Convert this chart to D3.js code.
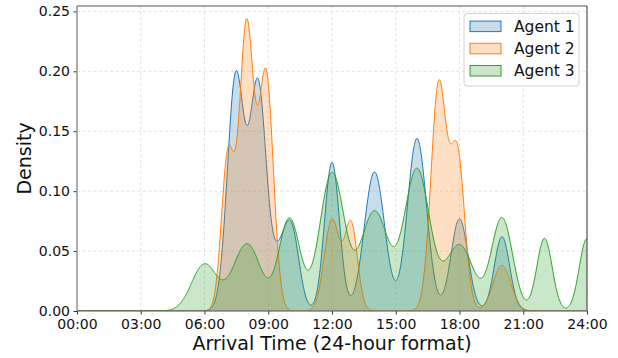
<!DOCTYPE html>
<html>
<head>
<meta charset="utf-8">
<script src="https://cdn.jsdelivr.net/npm/d3@7"></script>
<style>
  body { margin: 0; background: #fff; }
  svg { display: block; font-family: "DejaVu Sans", sans-serif; }
</style>
</head>
<body>
<script>
// kernel peaks: hour of each arrival cluster, peak density, spread (hours)
const agentNames = ['Agent 1', 'Agent 2', 'Agent 3'];
const agentColors = ['#1f77b4', '#ff7f0e', '#2ca02c'];

const agent1Hours  = [7.47, 8.52, 9.5, 10.1, 12.0, 14.0, 16.0, 18.0, 20.0];
const agent1Peaks  = [0.195, 0.188, 0.035, 0.065, 0.124, 0.116, 0.144, 0.077, 0.062];
const agent1Spread = [0.39, 0.39, 0.36, 0.36, 0.35, 0.48, 0.45, 0.40, 0.36];

const agent2Hours  = [7.1, 7.98, 8.9, 12.0, 12.9, 17.02, 17.9, 20.0];
const agent2Peaks  = [0.128, 0.237, 0.196, 0.076, 0.072, 0.188, 0.13, 0.038];
const agent2Spread = [0.30, 0.34, 0.34, 0.36, 0.30, 0.36, 0.34, 0.42];

const agent3Hours  = [6.0, 8.0, 10.0, 12.0, 14.0, 16.0, 18.0, 20.0, 22.0, 24.0];
const agent3Peaks  = [0.039, 0.056, 0.077, 0.115, 0.083, 0.118, 0.055, 0.0775, 0.0606, 0.0606];
const agent3Spread = [0.60, 0.65, 0.50, 0.58, 0.65, 0.60, 0.65, 0.50, 0.36, 0.36];

const hourTickValues = [0, 3, 6, 9, 12, 15, 18, 21, 24];
const hourTickLabels = ['00:00', '03:00', '06:00', '09:00', '12:00', '15:00', '18:00', '21:00', '24:00'];
const densityTicks = [0, 0.05, 0.10, 0.15, 0.20, 0.25];

const w = 618, h = 358;
const margin = {top: 6, right: 31, bottom: 47, left: 77};
const iw = w - margin.left - margin.right;
const ih = h - margin.top - margin.bottom;

const x = d3.scaleLinear().domain([0, 24]).range([0, iw]);
const y = d3.scaleLinear().domain([0, 0.2545]).range([ih, 0]);

function densityCurve(hours, peaks, spread) {
  return d3.range(0, 24.0001, 0.02).map(t => {
    let v = 0;
    hours.forEach((c, i) => {
      const z = (t - c) / spread[i];
      v += peaks[i] * Math.exp(-0.5 * z * z);
    });
    return [t, v];
  });
}

const series = [
  densityCurve(agent1Hours, agent1Peaks, agent1Spread),
  densityCurve(agent2Hours, agent2Peaks, agent2Spread),
  densityCurve(agent3Hours, agent3Peaks, agent3Spread)
];

const svg = d3.select('body').append('svg')
  .attr('width', w)
  .attr('height', h);

svg.append('defs').append('clipPath').attr('id', 'plot-clip')
  .append('rect').attr('width', iw).attr('height', ih);

const g = svg.append('g').attr('transform', `translate(${margin.left},${margin.top})`);

// grid
g.append('g').selectAll('line')
  .data(hourTickValues)
  .join('line')
  .attr('x1', d => x(d)).attr('x2', d => x(d))
  .attr('y1', 0).attr('y2', ih)
  .attr('stroke', '#dcdcdc').attr('stroke-width', 0.8).attr('stroke-dasharray', '3,2.5');

g.append('g').selectAll('line')
  .data(densityTicks)
  .join('line')
  .attr('x1', 0).attr('x2', iw)
  .attr('y1', d => y(d)).attr('y2', d => y(d))
  .attr('stroke', '#dcdcdc').attr('stroke-width', 0.8).attr('stroke-dasharray', '3,2.5');

// density areas
const area = d3.area().x(d => x(d[0])).y0(y(0)).y1(d => y(d[1]));
const line = d3.line().x(d => x(d[0])).y(d => y(d[1]));

const plot = g.append('g').attr('clip-path', 'url(#plot-clip)');
series.forEach((s, i) => {
  plot.append('path').datum(s)
    .attr('d', area)
    .attr('fill', agentColors[i]).attr('fill-opacity', 0.25);
  plot.append('path').datum(s)
    .attr('d', line)
    .attr('fill', 'none')
    .attr('stroke', agentColors[i]).attr('stroke-width', 1);
});

// axes
const xAxis = d3.axisBottom(x)
  .tickValues(hourTickValues)
  .tickFormat((d, i) => hourTickLabels[i])
  .tickSize(3.5).tickPadding(4.5);

const yAxis = d3.axisLeft(y)
  .tickValues(densityTicks)
  .tickFormat(d3.format('.2f'))
  .tickSize(3.5).tickPadding(3.5);

const gx = g.append('g').attr('transform', `translate(0,${ih})`).call(xAxis);
const gy = g.append('g').call(yAxis);

[gx, gy].forEach(a => {
  a.select('.domain').remove();
  a.selectAll('.tick line').attr('stroke', '#333').attr('stroke-width', 1);
  a.selectAll('.tick text').attr('fill', '#111').attr('font-size', '14px')
    .attr('font-family', '"DejaVu Sans", sans-serif');
});

// spines
g.append('line').attr('x1', 0).attr('x2', iw).attr('y1', 0).attr('y2', 0)
  .attr('stroke', '#555').attr('stroke-width', 1.2);
g.append('line').attr('x1', iw).attr('x2', iw).attr('y1', 0).attr('y2', ih)
  .attr('stroke', '#555').attr('stroke-width', 1.2);
g.append('line').attr('x1', 0).attr('x2', iw).attr('y1', ih).attr('y2', ih)
  .attr('stroke', '#555').attr('stroke-width', 1.2);
g.append('line').attr('x1', 0).attr('x2', 0).attr('y1', 0).attr('y2', ih)
  .attr('stroke', '#999').attr('stroke-width', 1.6);

// axis titles
svg.append('text')
  .attr('x', margin.left + iw / 2).attr('y', 350)
  .attr('text-anchor', 'middle')
  .attr('font-size', '19px').attr('fill', '#111')
  .text('Arrival Time (24-hour format)');

svg.append('text')
  .attr('transform', `translate(31,${margin.top + ih / 2}) rotate(-90)`)
  .attr('text-anchor', 'middle')
  .attr('font-size', '19px').attr('fill', '#111')
  .text('Density');

// legend
const legend = svg.append('g').attr('transform', 'translate(464,13.5)');
legend.append('rect')
  .attr('width', 115).attr('height', 72.5).attr('rx', 3)
  .attr('fill', '#fff').attr('fill-opacity', 0.8)
  .attr('stroke', '#d0d0d0').attr('stroke-width', 1);

const rows = legend.selectAll('g.row')
  .data(agentNames)
  .join('g')
  .attr('class', 'row')
  .attr('transform', (d, i) => `translate(0,${12.8 + i * 22.2})`);

rows.append('rect')
  .attr('x', 6).attr('y', -5.2).attr('width', 31).attr('height', 10.5)
  .attr('fill', (d, i) => agentColors[i]).attr('fill-opacity', 0.25)
  .attr('stroke', (d, i) => agentColors[i]).attr('stroke-width', 1);

rows.append('text')
  .attr('x', 50).attr('dy', '0.36em')
  .attr('font-size', '15.5px').attr('fill', '#111')
  .text(d => d);
</script>
</body>
</html>
